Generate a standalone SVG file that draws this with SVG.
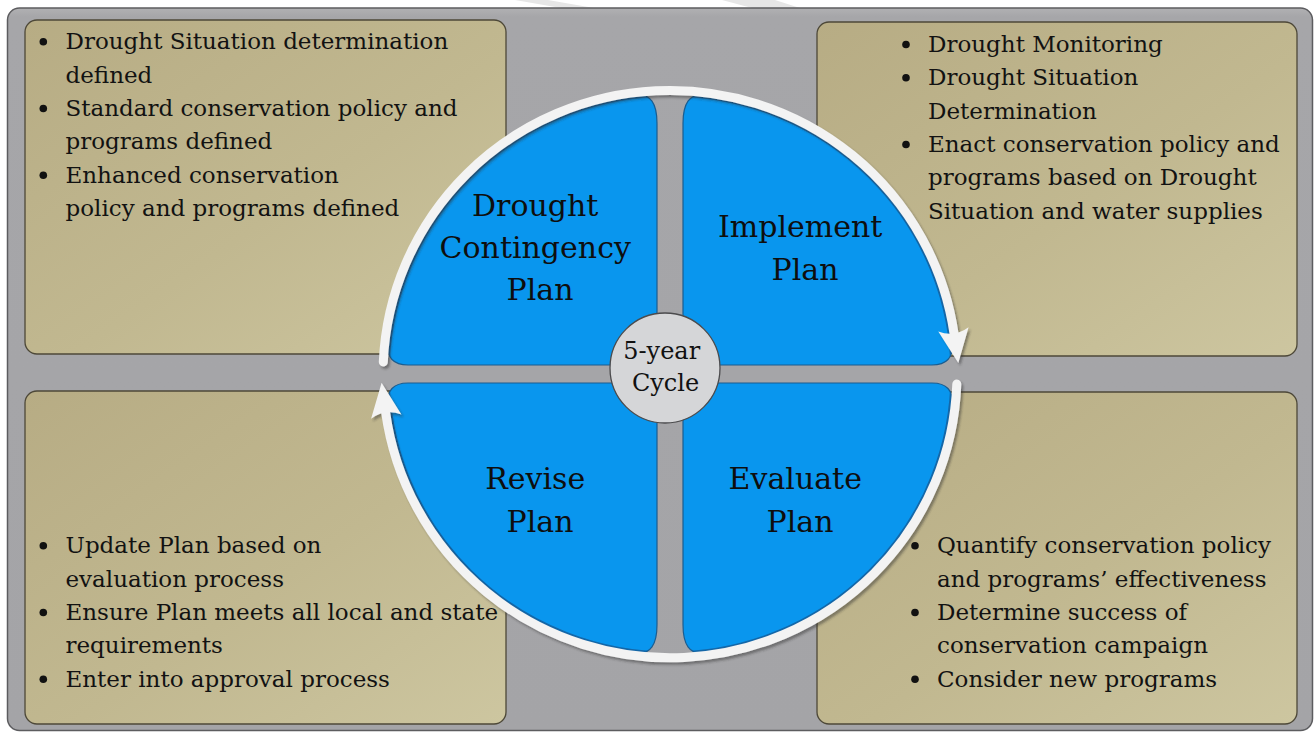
<svg xmlns="http://www.w3.org/2000/svg" xmlns:xlink="http://www.w3.org/1999/xlink" width="1316" height="734" viewBox="0 0 1316 734">
  <style>
    .note { font-family: "DejaVu Serif", "Liberation Serif", serif; font-size: 23px; fill: #121212; }
    .stage { font-family: "DejaVu Serif", "Liberation Serif", serif; font-size: 30px; fill: #0e0e0e; text-anchor: middle; }
    .hub-text { font-family: "DejaVu Serif", "Liberation Serif", serif; font-size: 24px; fill: #111; text-anchor: middle; }
    .box { fill: url(#tan); stroke: #4d4838; stroke-width: 1.3; }
    .dot { fill: #111; }
    .quad { fill: #0996ee; stroke: #1b5d90; stroke-width: 1.2; }
    .flow { fill: none; stroke: #f3f3f3; stroke-width: 9; stroke-linecap: round; }
  </style>
  <defs>
    <linearGradient id="tan" x1="0" y1="0" x2="1" y2="1">
      <stop offset="0" stop-color="#b7ac84"/>
      <stop offset="0.55" stop-color="#c1b890"/>
      <stop offset="1" stop-color="#cdc6a0"/>
    </linearGradient>
    <linearGradient id="panelFill" x1="0" y1="0" x2="0" y2="1">
      <stop offset="0" stop-color="#b1b1b3"/>
      <stop offset="0.012" stop-color="#a6a6a9"/>
      <stop offset="1" stop-color="#a4a4a7"/>
    </linearGradient>
    <!-- one quarter of the cycle disc; the others are mirrored copies -->
    <path id="quarter" d="M 657 365 L 657 123.3 Q 657 93.3 637 94.9 A 284 281 0 0 0 387.7 343 Q 386.2 365 408 365 Z"/>
    <clipPath id="discClip">
      <use xlink:href="#quarter"/>
      <use xlink:href="#quarter" transform="matrix(-1 0 0 1 1340 0)"/>
      <use xlink:href="#quarter" transform="matrix(1 0 0 -1 0 748)"/>
      <use xlink:href="#quarter" transform="matrix(-1 0 0 -1 1340 748)"/>
    </clipPath>
    <marker id="head" markerUnits="userSpaceOnUse" markerWidth="40" markerHeight="40" viewBox="-6 -16 34 32" refX="0" refY="0" orient="auto" overflow="visible">
      <path d="M 25 0 L -4 -13 Q 3 0 -4 13 Z" fill="#f3f3f3"/>
    </marker>
    <filter id="shade" x="-10%" y="-10%" width="120%" height="120%">
      <feDropShadow dx="2" dy="2.5" stdDeviation="1.2" flood-color="#2a2a2a" flood-opacity="0.45"/>
    </filter>
  </defs>

  <!-- faint diagonal streaks in the top margin -->
  <polygon points="515,0 548,0 594,8 561,8" fill="#e6e6e6"/>
  <polygon points="722,0 775,0 800,8 752,8" fill="#e6e6e6"/>

  <!-- background panel -->
  <g id="panel">
    <rect x="7.5" y="8" width="1305" height="722.5" rx="12" fill="url(#panelFill)" stroke="#5c5c5f" stroke-width="1.5"/>
  </g>

  <!-- description boxes -->
  <g id="box-define">
    <rect class="box" x="25" y="20" width="481" height="334" rx="12"/>
    <circle class="dot" cx="43.3" cy="41.8" r="3.8"/>
    <circle class="dot" cx="43.3" cy="108.5" r="3.8"/>
    <circle class="dot" cx="43.3" cy="175.2" r="3.8"/>
    <text class="note">
      <tspan x="65.5" y="49.3">Drought Situation determination</tspan>
      <tspan x="65.5" y="82.6">defined</tspan>
      <tspan x="65.5" y="116">Standard conservation policy and</tspan>
      <tspan x="65.5" y="149.3">programs defined</tspan>
      <tspan x="65.5" y="182.7">Enhanced conservation</tspan>
      <tspan x="65.5" y="216">policy and programs defined</tspan>
    </text>
  </g>

  <g id="box-implement">
    <rect class="box" x="817" y="22" width="480" height="334" rx="12"/>
    <circle class="dot" cx="906" cy="44.5" r="3.8"/>
    <circle class="dot" cx="906" cy="77.8" r="3.8"/>
    <circle class="dot" cx="906" cy="144.5" r="3.8"/>
    <text class="note">
      <tspan x="928" y="52">Drought Monitoring</tspan>
      <tspan x="928" y="85.3">Drought Situation</tspan>
      <tspan x="928" y="118.7">Determination</tspan>
      <tspan x="928" y="152">Enact conservation policy and</tspan>
      <tspan x="928" y="185.3">programs based on Drought</tspan>
      <tspan x="928" y="218.7">Situation and water supplies</tspan>
    </text>
  </g>

  <g id="box-revise">
    <rect class="box" x="25" y="391" width="481" height="333" rx="12"/>
    <circle class="dot" cx="43.3" cy="545.8" r="3.8"/>
    <circle class="dot" cx="43.3" cy="612.5" r="3.8"/>
    <circle class="dot" cx="43.3" cy="679.2" r="3.8"/>
    <text class="note">
      <tspan x="65.5" y="553.3">Update Plan based on</tspan>
      <tspan x="65.5" y="586.7">evaluation process</tspan>
      <tspan x="65.5" y="620">Ensure Plan meets all local and state</tspan>
      <tspan x="65.5" y="653.3">requirements</tspan>
      <tspan x="65.5" y="686.7">Enter into approval process</tspan>
    </text>
  </g>

  <g id="box-evaluate">
    <rect class="box" x="817" y="392" width="480" height="332" rx="12"/>
    <circle class="dot" cx="915" cy="545.8" r="3.8"/>
    <circle class="dot" cx="915" cy="612.5" r="3.8"/>
    <circle class="dot" cx="915" cy="679.2" r="3.8"/>
    <text class="note">
      <tspan x="937" y="553.3">Quantify conservation policy</tspan>
      <tspan x="937" y="586.7">and programs’ effectiveness</tspan>
      <tspan x="937" y="620">Determine success of</tspan>
      <tspan x="937" y="653.3">conservation campaign</tspan>
      <tspan x="937" y="686.7">Consider new programs</tspan>
    </text>
  </g>

  <!-- cycle stages -->
  <g id="stage-plan">
    <use class="quad" xlink:href="#quarter"/>
    <text class="stage">
      <tspan x="540" y="216">Drought</tspan>
      <tspan x="540" y="257.5">Contingency</tspan>
      <tspan x="540" y="300">Plan</tspan>
    </text>
  </g>
  <g id="stage-implement">
    <use class="quad" xlink:href="#quarter" transform="matrix(-1 0 0 1 1340 0)"/>
    <text class="stage">
      <tspan x="805" y="237">Implement</tspan>
      <tspan x="805" y="279.5">Plan</tspan>
    </text>
  </g>
  <g id="stage-revise">
    <use class="quad" xlink:href="#quarter" transform="matrix(1 0 0 -1 0 748)"/>
    <text class="stage">
      <tspan x="540" y="488.5">Revise</tspan>
      <tspan x="540" y="531.5">Plan</tspan>
    </text>
  </g>
  <g id="stage-evaluate">
    <use class="quad" xlink:href="#quarter" transform="matrix(-1 0 0 -1 1340 748)"/>
    <text class="stage">
      <tspan x="800" y="488.5">Evaluate</tspan>
      <tspan x="800" y="531.5">Plan</tspan>
    </text>
  </g>

  <!-- darker rim along the outer edge of the disc -->
  <ellipse cx="670" cy="374" rx="284" ry="281" fill="none" stroke="#1467a8" stroke-width="7" clip-path="url(#discClip)"/>

  <!-- cycle arrows -->
  <g id="connectors" filter="url(#shade)">
    <path class="flow" d="M 383.3 362 A 287 284 0 0 1 954.1 334" marker-end="url(#head)"/>
    <path class="flow" d="M 956.8 384 A 287 284 0 0 1 385.6 412" marker-end="url(#head)"/>
  </g>

  <!-- hub -->
  <g id="cycle-hub">
    <circle cx="665" cy="368" r="55" fill="#d5d6d8" stroke="#4b4b4d" stroke-width="1.3"/>
    <text class="hub-text">
      <tspan x="665.5" y="359">5-year</tspan>
      <tspan x="665.5" y="390.5">Cycle</tspan>
    </text>
  </g>
</svg>
